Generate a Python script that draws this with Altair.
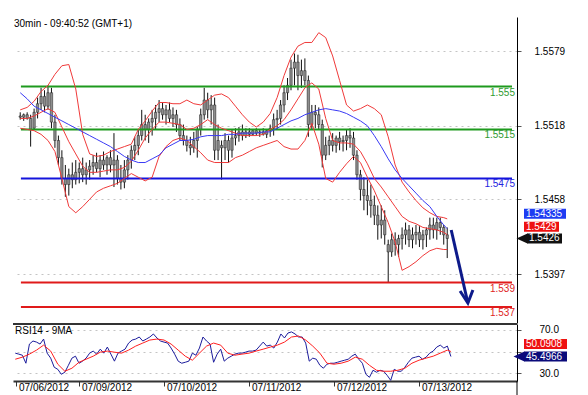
import altair as alt
import pandas as pd

FONT = "Liberation Sans"

title_text = "30min - 09:40:52 (GMT+1)"
panel_text = "RSI14 - 9MA"

# hourly bars, x = trading hours since 07/06/2012 00:00 (weekend removed)
bar_hours = list(range(6, 130))
bar_open = [
    1.5526, 1.5525, 1.5527, 1.5524, 1.5516, 1.5529, 1.5536, 1.5542, 1.5534, 1.5545,
    1.5521, 1.5506, 1.5492, 1.5475, 1.5470, 1.5478, 1.5474, 1.5480, 1.5483, 1.5478,
    1.5482, 1.5485, 1.5488, 1.5483, 1.5490, 1.5486, 1.5492, 1.5486, 1.5490, 1.5475,
    1.5472, 1.5482, 1.5490, 1.5498, 1.5502, 1.5510, 1.5519, 1.5515, 1.5521, 1.5524,
    1.5529, 1.5532, 1.5527, 1.5531, 1.5524, 1.5527, 1.5519, 1.5510, 1.5506, 1.5502,
    1.5500, 1.5506, 1.5515, 1.5527, 1.5539, 1.5531, 1.5535, 1.5498, 1.5502, 1.5500,
    1.5506, 1.5498, 1.5508, 1.5510, 1.5513, 1.5510, 1.5513, 1.5511, 1.5514, 1.5512,
    1.5513, 1.5511, 1.5514, 1.5516, 1.5523, 1.5524, 1.5535, 1.5545, 1.5551, 1.5565,
    1.5570, 1.5559, 1.5563, 1.5555, 1.5519, 1.5529, 1.5527, 1.5519, 1.5494, 1.5502,
    1.5506, 1.5502, 1.5508, 1.5505, 1.5506, 1.5510, 1.5508, 1.5494, 1.5478, 1.5466,
    1.5461, 1.5457, 1.5453, 1.5445, 1.5437, 1.5441, 1.5421, 1.5415, 1.5425, 1.5421,
    1.5426, 1.5429, 1.5433, 1.5425, 1.5429, 1.5431, 1.5425, 1.5429, 1.5433, 1.5437,
    1.5433, 1.5439, 1.5435, 1.5429,
]
bar_high = [
    1.5529, 1.5528, 1.5529, 1.5527, 1.5532, 1.5541, 1.5549, 1.5547, 1.5551, 1.5549,
    1.5527, 1.5510, 1.5498, 1.5486, 1.5483, 1.5488, 1.5490, 1.5488, 1.5492, 1.5488,
    1.5490, 1.5494, 1.5496, 1.5494, 1.5497, 1.5494, 1.5498, 1.5512, 1.5494, 1.5486,
    1.5490, 1.5494, 1.5502, 1.5509, 1.5515, 1.5531, 1.5527, 1.5524, 1.5531, 1.5535,
    1.5539, 1.5537, 1.5535, 1.5537, 1.5533, 1.5531, 1.5524, 1.5519, 1.5510, 1.5509,
    1.5513, 1.5517, 1.5532, 1.5549, 1.5545, 1.5543, 1.5541, 1.5519, 1.5506, 1.5512,
    1.5510, 1.5515, 1.5516, 1.5517, 1.5519, 1.5516, 1.5516, 1.5515, 1.5516, 1.5515,
    1.5516, 1.5515, 1.5519, 1.5528, 1.5531, 1.5539, 1.5551, 1.5557, 1.5572, 1.5577,
    1.5576, 1.5572, 1.5573, 1.5559, 1.5535, 1.5535, 1.5533, 1.5523, 1.5509, 1.5510,
    1.5512, 1.5510, 1.5513, 1.5510, 1.5515, 1.5516, 1.5513, 1.5498, 1.5482, 1.5476,
    1.5474, 1.5470, 1.5461, 1.5453, 1.5453, 1.5449, 1.5425, 1.5430, 1.5431, 1.5429,
    1.5435, 1.5439, 1.5437, 1.5435, 1.5437, 1.5436, 1.5433, 1.5435, 1.5443, 1.5443,
    1.5443, 1.5443, 1.5437, 1.5435,
]
bar_low = [
    1.5523, 1.5522, 1.5523, 1.5501, 1.5515, 1.5524, 1.5531, 1.5529, 1.5531, 1.5516,
    1.5500, 1.5486, 1.5470, 1.5460, 1.5461, 1.5467, 1.5470, 1.5471, 1.5472, 1.5470,
    1.5474, 1.5478, 1.5480, 1.5476, 1.5482, 1.5478, 1.5480, 1.5468, 1.5470, 1.5466,
    1.5467, 1.5474, 1.5483, 1.5490, 1.5494, 1.5506, 1.5506, 1.5504, 1.5510, 1.5515,
    1.5521, 1.5523, 1.5519, 1.5521, 1.5517, 1.5513, 1.5506, 1.5502, 1.5497, 1.5494,
    1.5496, 1.5492, 1.5510, 1.5523, 1.5524, 1.5519, 1.5490, 1.5490, 1.5474, 1.5490,
    1.5488, 1.5492, 1.5502, 1.5505, 1.5506, 1.5508, 1.5509, 1.5510, 1.5510, 1.5509,
    1.5510, 1.5508, 1.5509, 1.5510, 1.5515, 1.5519, 1.5529, 1.5539, 1.5547, 1.5551,
    1.5547, 1.5549, 1.5551, 1.5509, 1.5515, 1.5516, 1.5515, 1.5484, 1.5490, 1.5494,
    1.5497, 1.5496, 1.5498, 1.5497, 1.5498, 1.5500, 1.5490, 1.5474, 1.5457, 1.5449,
    1.5445, 1.5443, 1.5437, 1.5425, 1.5426, 1.5421, 1.5390, 1.5411, 1.5412, 1.5411,
    1.5417, 1.5421, 1.5419, 1.5418, 1.5421, 1.5419, 1.5417, 1.5419, 1.5425, 1.5426,
    1.5425, 1.5429, 1.5421, 1.5410,
]
bar_close = [
    1.5525, 1.5527, 1.5524, 1.5515, 1.5529, 1.5536, 1.5542, 1.5534, 1.5545, 1.5521,
    1.5506, 1.5492, 1.5475, 1.5470, 1.5478, 1.5474, 1.5480, 1.5483, 1.5478, 1.5482,
    1.5485, 1.5488, 1.5483, 1.5490, 1.5486, 1.5492, 1.5486, 1.5490, 1.5475, 1.5472,
    1.5482, 1.5490, 1.5498, 1.5502, 1.5510, 1.5519, 1.5515, 1.5521, 1.5524, 1.5529,
    1.5532, 1.5527, 1.5531, 1.5524, 1.5527, 1.5519, 1.5510, 1.5506, 1.5502, 1.5500,
    1.5506, 1.5515, 1.5527, 1.5539, 1.5531, 1.5535, 1.5498, 1.5506, 1.5500, 1.5506,
    1.5498, 1.5508, 1.5510, 1.5513, 1.5510, 1.5513, 1.5511, 1.5514, 1.5512, 1.5513,
    1.5511, 1.5514, 1.5516, 1.5523, 1.5524, 1.5535, 1.5545, 1.5551, 1.5565, 1.5570,
    1.5559, 1.5563, 1.5555, 1.5519, 1.5529, 1.5527, 1.5519, 1.5494, 1.5502, 1.5506,
    1.5502, 1.5508, 1.5505, 1.5506, 1.5510, 1.5508, 1.5494, 1.5478, 1.5466, 1.5461,
    1.5457, 1.5453, 1.5445, 1.5437, 1.5441, 1.5429, 1.5415, 1.5425, 1.5421, 1.5426,
    1.5429, 1.5433, 1.5425, 1.5429, 1.5431, 1.5425, 1.5429, 1.5433, 1.5437, 1.5433,
    1.5439, 1.5435, 1.5429, 1.5426,
]
rsi_values = [
    48.6, 47.7, 46.7, 39.3, 57.0, 59.8, 58.8, 57.0, 61.6, 48.6,
    44.0, 35.6, 33.7, 29.1, 31.0, 37.4, 44.0, 45.8, 39.3, 41.2,
    44.0, 48.6, 50.5, 47.7, 52.3, 48.6, 54.2, 47.7, 41.2, 48.6,
    50.5, 52.3, 57.9, 60.7, 61.6, 63.5, 59.8, 61.6, 63.5, 66.3,
    62.6, 59.8, 58.8, 57.9, 53.3, 47.7, 41.2, 39.3, 40.2, 41.2,
    48.6, 46.7, 53.3, 63.5, 59.8, 57.0, 40.2, 47.7, 52.3, 41.2,
    44.0, 45.8, 47.7, 48.6, 48.6, 49.5, 50.5, 50.5, 51.4, 55.1,
    58.8, 55.1, 56.0, 53.3, 58.8, 66.3, 62.6, 67.2, 68.2, 66.3,
    63.5, 63.5, 57.9, 41.2, 44.0, 43.0, 37.4, 34.7, 38.4, 39.3,
    39.3, 40.2, 41.2, 42.1, 43.0, 45.8, 47.7, 43.0, 39.3, 29.1,
    26.3, 32.8, 31.0, 32.8, 31.9, 28.1, 23.5, 33.7, 31.9, 31.9,
    35.6, 40.2, 44.0, 44.9, 45.8, 43.0, 44.9, 48.6, 50.5, 54.2,
    56.0, 53.3, 55.1, 45.5,
]

# indicator lines, sampled every two hours
band_hours = list(range(6, 129, 2)) + [129]
bb_upper = [
    1.5531, 1.5533, 1.5538, 1.5546, 1.5551, 1.5560, 1.5567, 1.5568, 1.5548, 1.5511,
    1.5495, 1.5493, 1.5494, 1.5497, 1.5499, 1.5501, 1.5503, 1.5515, 1.5522, 1.5530,
    1.5537, 1.5537, 1.5536, 1.5536, 1.5539, 1.5536, 1.5535, 1.5539, 1.5543, 1.5544,
    1.5541, 1.5534, 1.5527, 1.5521, 1.5517, 1.5521, 1.5528, 1.5541, 1.5559, 1.5574,
    1.5583, 1.5586, 1.5586, 1.5594, 1.5590, 1.5575, 1.5555, 1.5535, 1.5530, 1.5532,
    1.5535, 1.5532, 1.5527, 1.5509, 1.5486, 1.5472, 1.5464, 1.5457, 1.5451, 1.5447,
    1.5444, 1.5443, 1.5442,
]
bb_mid = [
    1.5524, 1.5524, 1.5526, 1.5529, 1.5532, 1.5529, 1.5517, 1.5505, 1.5495, 1.5485,
    1.5480, 1.5480, 1.5481, 1.5482, 1.5482, 1.5484, 1.5489, 1.5498, 1.5508, 1.5515,
    1.5521, 1.5521, 1.5520, 1.5519, 1.5515, 1.5516, 1.5519, 1.5523, 1.5519, 1.5516,
    1.5514, 1.5512, 1.5510, 1.5510, 1.5510, 1.5511, 1.5515, 1.5518, 1.5523, 1.5531,
    1.5540, 1.5549, 1.5553, 1.5548, 1.5524, 1.5506, 1.5504, 1.5504, 1.5503, 1.5497,
    1.5487, 1.5475, 1.5468, 1.5460, 1.5452, 1.5444, 1.5440, 1.5438, 1.5435, 1.5434,
    1.5433, 1.5431, 1.5429,
]
bb_lower = [
    1.5516, 1.5515, 1.5514, 1.5511, 1.5506, 1.5497, 1.5475, 1.5452, 1.5447, 1.5452,
    1.5458, 1.5464, 1.5467, 1.5469, 1.5471, 1.5475, 1.5479, 1.5476, 1.5473, 1.5476,
    1.5493, 1.5501, 1.5506, 1.5508, 1.5506, 1.5501, 1.5496, 1.5490, 1.5488, 1.5488,
    1.5488, 1.5492, 1.5494, 1.5497, 1.5500, 1.5502, 1.5504, 1.5506, 1.5501, 1.5499,
    1.5499, 1.5506, 1.5520, 1.5503, 1.5475, 1.5472, 1.5480, 1.5487, 1.5493, 1.5488,
    1.5476, 1.5465, 1.5452, 1.5439, 1.5423, 1.5400, 1.5403, 1.5407, 1.5412, 1.5416,
    1.5418, 1.5417, 1.5417,
]
ma_blue = [
    1.5545, 1.5540, 1.5534, 1.5531, 1.5528, 1.5525, 1.5522, 1.5519, 1.5516, 1.5513,
    1.5510, 1.5507, 1.5504, 1.5501, 1.5497, 1.5493, 1.5490, 1.5488, 1.5488, 1.5491,
    1.5494, 1.5500, 1.5503, 1.5506, 1.5506, 1.5507, 1.5509, 1.5510, 1.5510, 1.5510,
    1.5511, 1.5511, 1.5512, 1.5512, 1.5512, 1.5513, 1.5513, 1.5516, 1.5519, 1.5522,
    1.5524, 1.5527, 1.5529, 1.5531, 1.5532, 1.5531, 1.5530, 1.5528, 1.5525, 1.5522,
    1.5518, 1.5510, 1.5501, 1.5491, 1.5482, 1.5475, 1.5469, 1.5463, 1.5457, 1.5452,
    1.5444, 1.5437, 1.5434,
]
rsi_ma = [
    43.0, 44.9, 47.7, 51.4, 56.0, 50.5, 38.4, 31.9, 34.7, 40.2,
    43.0, 45.8, 49.5, 50.5, 49.5, 48.6, 51.4, 55.1, 57.9, 60.7,
    61.6, 60.7, 57.0, 51.4, 45.8, 42.1, 48.6, 55.1, 57.9, 56.0,
    48.6, 46.7, 47.7, 48.6, 50.5, 52.3, 54.2, 56.0, 58.8, 63.5,
    64.4, 60.7, 55.1, 48.6, 39.3, 38.4, 39.3, 41.2, 44.9, 43.0,
    37.4, 32.8, 31.9, 31.9, 32.8, 34.7, 39.3, 42.1, 44.0, 45.8,
    48.6, 51.4, 50.1,
]

level_values = [1.555, 1.5515, 1.5475, 1.539, 1.537]
level_labels = ["1.555", "1.5515", "1.5475", "1.539", "1.537"]
level_start = 6.2

price_ticks = [1.5397, 1.5458, 1.5518, 1.5579]
rsi_ticks = [30, 50, 70]
date_ticks = [6.2, 24, 48, 72, 96, 120]
date_labels = ["07/06/2012", "07/09/2012", "07/10/2012", "07/11/2012", "07/12/2012", "07/13/2012"]

arrow_hours = [130.15, 134.95]
arrow_prices = [1.54329, 1.53733]
head_hours = [132.7, 134.95, 136.4]
head_prices = [1.53831, 1.53733, 1.53839]

main_tag_values = [1.54335, 1.5429, 1.5426]
main_tag_texts = ["1.54335", "1.5429", "1.5426"]
rsi_tag_values = [50.0908, 45.4966]
rsi_tag_texts = ["50.0908", "45.4966"]

n = len(bar_hours)
for arr in (bar_open, bar_high, bar_low, bar_close, rsi_values):
    assert len(arr) == n, len(arr)
for arr in (bb_upper, bb_mid, bb_lower, ma_blue, rsi_ma):
    assert len(arr) == len(band_hours), len(arr)

# ---------------- layout / style ----------------
W = 504
H_MAIN = 306
H_RSI = 57
X_DOMAIN = [5.36, 147.66]
P_DOMAIN = [1.53570, 1.56068]
R_DOMAIN = [22.9, 75.5]
GRID = "#c4c4c4"
RED = "#f03a3a"
NAVY = "#0d1a8a"

bars = pd.DataFrame(dict(t=bar_hours, o=bar_open, h=bar_high, l=bar_low,
                         c=bar_close, rsi=rsi_values))
bands = pd.DataFrame(dict(t=band_hours, up=bb_upper, mid=bb_mid, lo=bb_lower,
                          ma=ma_blue, rsima=rsi_ma))

xs = alt.Scale(domain=X_DOMAIN, nice=False, zero=False)
ps = alt.Scale(domain=P_DOMAIN, nice=False, zero=False)
rs = alt.Scale(domain=R_DOMAIN, nice=False, zero=False)

price_axis = alt.Axis(orient="right", values=price_ticks, format=".4f", title=None,
                      grid=True, gridDash=[2, 4], gridColor=GRID, domainColor="#000",
                      tickColor="#555", tickSize=4, labelPadding=13, labelFontSize=10,
                      labelColor="#000", labelFont=FONT)
date_axis = alt.Axis(values=date_ticks, labels=False, title=None, grid=False,
                     domainColor="#333", domainWidth=2, tickColor="#333", tickSize=5)
rsi_axis = alt.Axis(orient="right", values=rsi_ticks,
                    labelExpr="datum.value == 50 ? '' : format(datum.value, '.1f')",
                    title=None, grid=True, gridDash=[2, 4], gridColor=GRID,
                    domainColor="#000", tickColor="#555", tickSize=4, labelPadding=18,
                    labelFontSize=10, labelFont=FONT, labelColor="#000")

xm = alt.X("t:Q", scale=xs, axis=None)
def py(field):
    return alt.Y(f"{field}:Q", scale=ps, axis=price_axis)
def ry(field):
    return alt.Y(f"{field}:Q", scale=rs, axis=rsi_axis)
def rx(field):
    return alt.X(f"{field}:Q", scale=xs, axis=date_axis)

wicks = alt.Chart(bars).mark_rule(color="#111", strokeWidth=1).encode(
    x=xm, y=py("l"), y2="h:Q")
bodies = alt.Chart(bars).mark_bar(width=2.4, fill="#8e8e8e", stroke="#1a1a1a",
                                  strokeWidth=0.5).encode(
    x=xm, y=py("o"), y2="c:Q")

lv = pd.DataFrame(dict(v=level_values, lab=level_labels,
                       col=["#1e9a1e", "#1e9a1e", "#1414dc", "#e01a1a", "#e01a1a"],
                       tcol=["#2f9a2f", "#2f9a2f", "#2424e0", "#e02424", "#e02424"],
                       s=[level_start] * 5, e=[X_DOMAIN[1]] * 5))
level_rules = alt.Chart(lv).mark_rule(strokeWidth=2).encode(
    x=alt.X("s:Q", scale=xs, axis=None), x2="e:Q",
    y=py("v"), color=alt.Color("col:N", scale=None))
level_text = alt.Chart(lv).mark_text(align="right", baseline="middle", dy=6,
                                     fontSize=10, font=FONT).encode(
    x=alt.value(502), y=py("v"), text="lab:N",
    color=alt.Color("tcol:N", scale=None))

def band_line(field, color):
    return alt.Chart(bands).mark_line(color=color, strokeWidth=1).encode(
        x=xm, y=py(field))

arrow_df = pd.DataFrame(dict(t=arrow_hours, p=arrow_prices, k=[0, 1]))
head_df = pd.DataFrame(dict(t=head_hours, p=head_prices, k=[0, 1, 2]))
shaft = alt.Chart(arrow_df).mark_line(color=NAVY, strokeWidth=3).encode(
    x=xm, y=py("p"), order="k:Q")
head = alt.Chart(head_df).mark_line(color=NAVY, strokeWidth=3, strokeJoin="miter").encode(
    x=xm, y=py("p"), order="k:Q")

title_mark = alt.Chart(pd.DataFrame({"s": [title_text]})).mark_text(
    align="left", baseline="middle", fontSize=10, font=FONT, color="#000").encode(
    x=alt.value(1), y=alt.value(7), text="s:N")

def tag(value, text, yfun, color, x0, x1, yoff, pointer=False):
    df = pd.DataFrame({"v": [value], "s": [text]})
    base = alt.Chart(df)
    box = base.mark_rule(color=color, strokeWidth=10, strokeCap="butt", yOffset=yoff).encode(
        x=alt.value(x0), x2=alt.value(x1), y=yfun("v"))
    label = base.mark_text(align="left", baseline="middle", fontSize=10, font=FONT,
                           color="white", dy=yoff).encode(
        x=alt.value(x0 + 2), y=yfun("v"), text="s:N")
    layers = [box, label]
    if pointer:
        tri = base.mark_point(shape="M -2.2 0 L 0 -1 L 0 1 Z", filled=True, size=100,
                              color=color, opacity=1, strokeWidth=0).encode(
            x=alt.value(x0 + 0.5), y=yfun("v"))
        layers.insert(0, tri)
    return layers

main_layers = [wicks, bodies, level_rules, level_text,
               band_line("up", RED), band_line("lo", RED), band_line("mid", RED),
               band_line("ma", "#3a3af5"), shaft, head, title_mark]
main_layers += tag(main_tag_values[0], main_tag_texts[0], py, "#1e3cf2", 511, 553, -15.5)
main_layers += tag(main_tag_values[1], main_tag_texts[1], py, "#ee1111", 511, 546, -8)
main_layers += tag(main_tag_values[2], main_tag_texts[2], py, "#111111", 514, 549, 0, pointer=True)

main = alt.layer(*main_layers).properties(width=W, height=H_MAIN)

# ---------------- RSI panel ----------------
rsi_line = alt.Chart(bars).mark_line(color="#1c1c9c", strokeWidth=1).encode(
    x=rx("t"), y=ry("rsi"))
rsi_ma_line = alt.Chart(bands).mark_line(color="#ff2020", strokeWidth=1).encode(
    x=rx("t"), y=ry("rsima"))
date_df = pd.DataFrame({"t": date_ticks, "s": date_labels})
date_text = alt.Chart(date_df).mark_text(align="left", baseline="middle", dx=3,
                                         fontSize=10, font=FONT, color="#000").encode(
    x=rx("t"), y=alt.value(H_RSI + 7), text="s:N")
top_border = alt.Chart(pd.DataFrame({"a": [0]})).mark_rule(color="#333", strokeWidth=2).encode(
    x=alt.value(0), x2=alt.value(W), y=alt.value(0))
axis_ext = alt.Chart(pd.DataFrame({"a": [0]})).mark_rule(color="#000", strokeWidth=1).encode(
    x=alt.value(W), y=alt.value(H_RSI), y2=alt.value(H_RSI + 14))
rsi_title = alt.Chart(pd.DataFrame({"s": [panel_text]})).mark_text(
    align="left", baseline="middle", fontSize=10, font=FONT, color="#000").encode(
    x=alt.value(2), y=alt.value(7), text="s:N")

rsi_layers = [rsi_line, rsi_ma_line, date_text, top_border, axis_ext, rsi_title]
rsi_layers += tag(rsi_tag_values[0], rsi_tag_texts[0], ry, "#ee1111", 511, 554, -7.5)
rsi_layers += tag(rsi_tag_values[1], rsi_tag_texts[1], ry, "#0a0a7a", 511, 554, 0, pointer=True)

rsi_chart = alt.layer(*rsi_layers).properties(width=W, height=H_RSI)

chart = alt.vconcat(main, rsi_chart, spacing=0).properties(
    padding={"left": 12, "top": 17, "right": 0, "bottom": 0},
    background="white",
).configure_view(stroke=None).configure_text(font=FONT)

chart.save("out.html", embed_options={"renderer": "svg", "actions": False})
